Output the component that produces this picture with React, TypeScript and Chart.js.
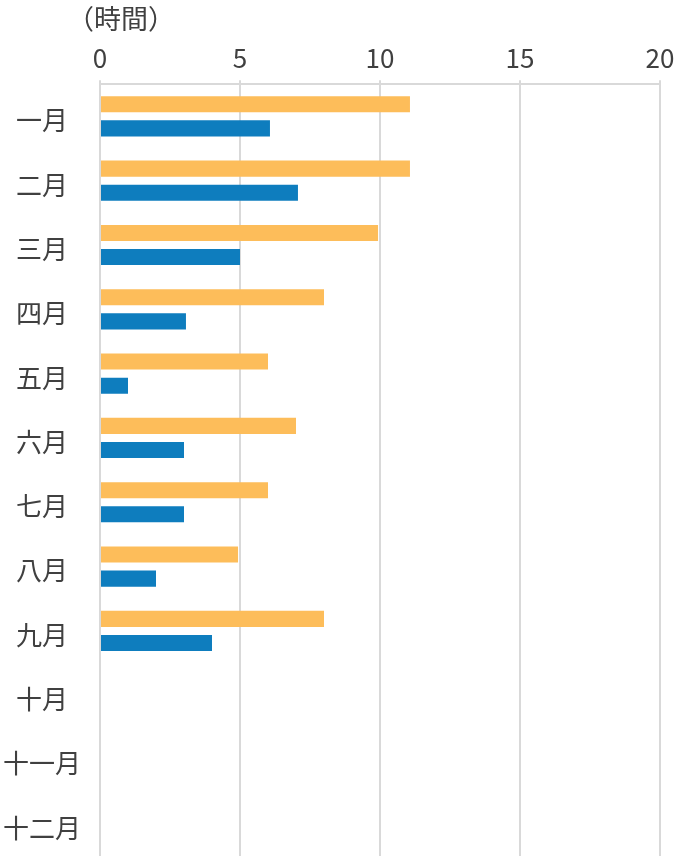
import React, { useEffect, useRef } from "react";
import { Chart, registerables } from "chart.js";

Chart.register(...registerables);

const months = ["一月", "二月", "三月", "四月", "五月", "六月", "七月", "八月", "九月", "十月", "十一月", "十二月"];
const orangeValues = [11.07, 11.07, 9.93, 8, 6, 7, 6, 4.93, 8, null, null, null];
const blueValues = [6.07, 7.07, 5, 3.07, 1, 3, 3, 2, 4, null, null, null];
const xMin = 0;
const xMax = 20;
const xStep = 5;
const unitLabel = "（時間）";

const FONT = "'Noto Sans CJK JP', 'Noto Sans', sans-serif";
const TEXT = "#404040";
const GRID = "#d9d9d9";

const unitPlugin = {
  id: "unitLabel",
  afterDraw(chart: any) {
    const ctx = chart.ctx;
    ctx.save();
    ctx.font = `27px ${FONT}`;
    ctx.fillStyle = TEXT;
    ctx.textAlign = "center";
    ctx.textBaseline = "middle";
    ctx.fillText(unitLabel, 121, 19);
    ctx.restore();
  },
};

export default function App() {
  const ref = useRef<HTMLCanvasElement>(null);
  useEffect(() => {
    document.body.style.margin = "0";
    const chart = new Chart(ref.current!, {
      type: "bar",
      data: {
        labels: months,
        datasets: [
          { data: orangeValues as any, backgroundColor: "rgb(253,189,90)", categoryPercentage: 0.75, barPercentage: 0.667 },
          { data: blueValues as any, backgroundColor: "rgb(14,125,190)", categoryPercentage: 0.75, barPercentage: 0.667 },
        ],
      },
      options: {
        indexAxis: "y",
        animation: false,
        responsive: false,
        maintainAspectRatio: false,
        layout: { padding: { top: 37, left: 2, right: 26, bottom: 0 } },
        plugins: { legend: { display: false }, tooltip: { enabled: false }, title: { display: false } },
        scales: {
          x: {
            position: "top",
            min: xMin,
            max: xMax,
            ticks: { stepSize: xStep, color: TEXT, font: { family: FONT, size: 26 }, padding: 6 },
            grid: { color: GRID, lineWidth: 2, tickLength: 4, drawTicks: true },
            border: { color: GRID, width: 2 },
            afterFit: (s: any) => {
              s.paddingLeft = 0;
              s.paddingRight = 0;
            },
          },
          y: {
            ticks: { color: TEXT, font: { family: FONT, size: 26 }, crossAlign: "center", padding: 19, autoSkip: false, labelOffset: 4 },
            grid: { display: false, drawTicks: false },
            border: { display: false },
            afterFit: (s: any) => {
              s.width = 98;
              s.paddingTop = 0;
              s.paddingBottom = 0;
            },
          },
        },
      },
      plugins: [unitPlugin],
    });
    return () => chart.destroy();
  }, []);
  return (
    <div style={{ width: 686, height: 856 }}>
      <canvas ref={ref} width={686} height={856} style={{ display: "block" }} />
    </div>
  );
}
